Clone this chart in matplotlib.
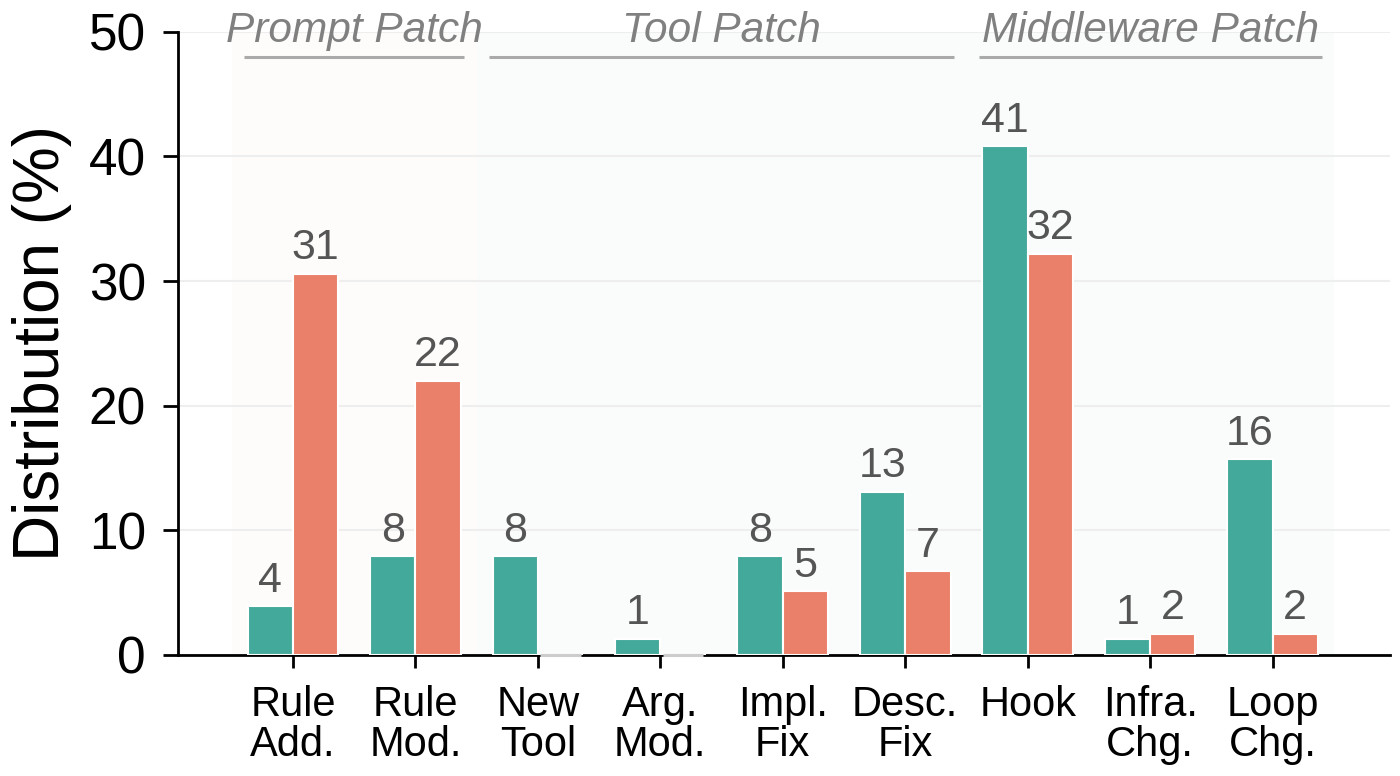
import numpy as np
import matplotlib.pyplot as plt

plt.rcParams['font.family'] = ['Liberation Sans', 'DejaVu Sans']

categories = ['Rule\nAdd.', 'Rule\nMod.', 'New\nTool', 'Arg.\nMod.', 'Impl.\nFix',
              'Desc.\nFix', 'Hook', 'Infra.\nChg.', 'Loop\nChg.']
teal_vals = [3.9, 7.9, 7.9, 1.3, 7.9, 13.1, 40.8, 1.3, 15.7]
salmon_vals = [30.6, 22.0, 0.0, 0.0, 5.1, 6.7, 32.2, 1.7, 1.7]
groups = ['Prompt Patch', 'Tool Patch', 'Middleware Patch']
group_ranges = [(0, 1), (2, 5), (6, 8)]

teal = '#43a99b'
salmon = '#ea8069'

fig = plt.figure(figsize=(14, 7.76), dpi=100)
ax = fig.add_axes([0.127, 0.156, 0.866, 0.803])

x = np.arange(len(categories))
w = 0.37

# faint group shading
shade = [salmon, teal, teal]
for (a, b), c in zip(group_ranges, shade):
    ax.axvspan(a - 0.5, b + 0.5, color=c, alpha=0.025, lw=0, zorder=0)

b1 = ax.bar(x - w / 2, teal_vals, w, color=teal, edgecolor='white', lw=1.5, zorder=3)
b2 = ax.bar(x + w / 2, salmon_vals, w, color=salmon, edgecolor='white', lw=1.5, zorder=3)

for bars, vals in [(b1, teal_vals), (b2, salmon_vals)]:
    labels = [f'{round(v)}' if v > 0 else '' for v in vals]
    ax.bar_label(bars, labels=labels, padding=4, fontsize=31, color='#555555')

# zero-height bars show as a light line on the axis
for xi, v in zip(x, salmon_vals):
    if v == 0:
        ax.plot([xi + 0.02, xi + w - 0.02], [0, 0], color='#cccccc', lw=2.2,
                zorder=4, clip_on=False, solid_capstyle='butt')

# group headers
for name, (a, b) in zip(groups, group_ranges):
    ax.plot([a - 0.4, b + 0.4], [48, 48], color='#aaaaaa', lw=2.2,
            clip_on=False, zorder=4, solid_capstyle='butt')
    ax.text((a + b) / 2, 49.2, name, ha='center', va='baseline', fontsize=30.5,
            style='italic', color='#808080', zorder=4, clip_on=False)

ax.set_xlim(-0.94, 8.96)
ax.set_ylim(0, 50)
ax.set_yticks([0, 10, 20, 30, 40, 50])
ax.set_xticks(x)
ax.set_xticklabels(categories, fontsize=30, linespacing=1.0)
ax.tick_params(axis='y', labelsize=37, length=11, width=2, pad=12)
ax.tick_params(axis='x', length=9, width=2, pad=13)
ax.set_ylabel('Distribution (%)', fontsize=46, labelpad=12)

ax.grid(axis='y', color='#eeeeee', lw=1.5, zorder=0)
ax.set_axisbelow(True)
for s in ['top', 'right']:
    ax.spines[s].set_visible(False)
for s in ['left', 'bottom']:
    ax.spines[s].set_linewidth(2)
    ax.spines[s].set_zorder(2.5)

fig.savefig('out.png', dpi=100)
